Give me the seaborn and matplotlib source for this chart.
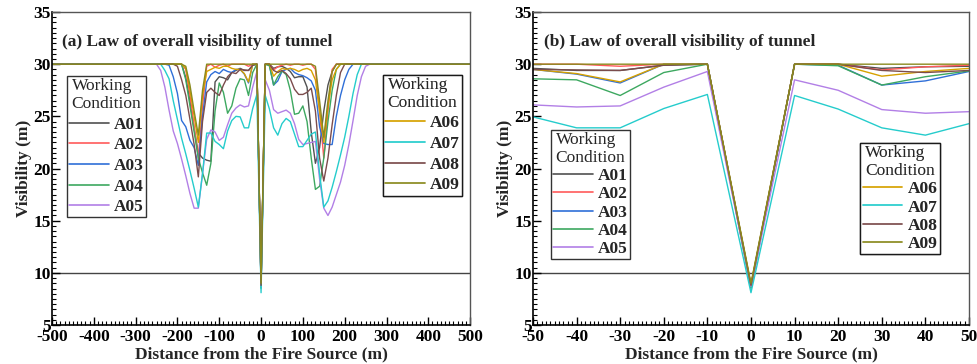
import numpy as np
import pandas as pd
import seaborn as sns
import matplotlib.pyplot as plt
from matplotlib.lines import Line2D
from matplotlib.ticker import MultipleLocator

# distance from fire source (m); sample points of the curves
x_a = [-500,
       -270, -260, -250, -240, -230, -220, -210, -200, -190, -180, -170, -160, -150, -140,
       -130, -120, -110, -100, -90, -80, -70, -60, -50, -40, -30, -20, -10,
       0,
       10, 20, 30, 40, 50, 60, 70, 80, 90, 100, 110, 120, 130, 140,
       150, 160, 170, 180, 190, 200, 210, 220, 230, 240, 250, 260, 270,
       500]

a01 = [30,
       30, 30, 30, 30, 30, 30, 30, 30, 30, 28.7, 26.5, 23.8, 21.5, 21.0,
       20.8, 20.7, 28.3, 28.8, 28.7, 28.5, 29.2, 29.4, 29.6, 29.4, 29.4, 29.9, 30,
       8.8,
       30, 30, 29.6, 29.75, 29.8, 29.6, 29.3, 28.7, 28.8, 28.8, 27.8, 23.5, 20.5, 22.0,
       25.5, 28.0, 29.3, 30, 30, 30, 30, 30, 30, 30, 30, 30, 30,
       30]
a02 = [30,
       30, 30, 30, 30, 30, 30, 30, 30, 30, 29.5, 27.0, 24.0, 21.0, 26.0,
       29.8, 30, 29.7, 29.9, 30, 29.8, 30, 30, 30, 30, 29.8, 30, 30,
       8.7,
       30, 30, 29.45, 29.75, 29.9, 30, 29.9, 30, 30, 29.9, 30, 30, 29.5, 25.5,
       21.0, 25.5, 29.5, 30, 30, 30, 30, 30, 30, 30, 30, 30, 30,
       30]
a03 = [30,
       30, 30, 30, 30, 30, 29.9, 28.8, 27.2, 24.6, 24.0, 22.7, 22.0, 20.3, 25.0,
       28.3, 29.0, 29.3, 29.1, 29.5, 29.3, 29.2, 29.5, 29.5, 29.05, 28.2, 30, 30,
       8.6,
       30, 29.9, 28.0, 28.4, 29.3, 29.5, 29.6, 29.2, 29.0, 28.9, 28.7, 28.4, 27.5, 24.0,
       22.4, 22.3, 22.3, 25.0, 27.0, 28.5, 29.5, 30, 30, 30, 30, 30, 30,
       30]
a04 = [30,
       30, 30, 30, 30, 30, 30, 30, 30, 30, 28.5, 26.0, 23.5, 21.0, 19.6,
       18.4, 20.5, 25.5, 28.2, 27.3, 25.3, 26.0, 27.7, 28.6, 28.5, 27.0, 29.2, 30,
       8.5,
       30, 29.85, 28.0, 28.8, 29.35, 29.0, 27.5, 25.2, 25.3, 26.0, 24.5, 21.0, 18.0, 18.3,
       21.0, 24.5, 27.5, 29.5, 30, 30, 30, 30, 30, 30, 30, 30, 30,
       30]
a05 = [30,
       30, 30, 30, 29.4, 27.8, 25.6, 23.6, 22.4, 20.9, 19.3, 17.6, 16.2, 16.2, 19.5,
       22.8, 23.7, 23.5, 22.7, 23.0, 24.2, 25.3, 25.8, 26.1, 25.9, 26.0, 27.8, 29.3,
       8.7,
       28.5, 27.5, 25.65, 25.3, 25.45, 25.6, 25.3, 24.3, 22.8, 22.3, 22.4, 22.5, 22.6, 19.0,
       16.2, 15.5, 16.3, 17.5, 18.7, 20.3, 22.3, 24.6, 27.0, 28.8, 29.8, 30, 30,
       30]
a06 = [30,
       30, 30, 30, 30, 30, 30, 30, 30, 30, 29.6, 27.5, 25.0, 22.5, 27.0,
       29.3, 29.5, 29.7, 29.6, 29.8, 29.8, 29.6, 29.5, 29.5, 29.1, 28.3, 30, 30,
       8.9,
       30, 30, 28.85, 29.3, 29.6, 29.5, 29.6, 29.5, 29.3, 29.5, 29.6, 29.4, 28.5, 25.5,
       22.5, 26.0, 28.5, 29.5, 30, 30, 30, 30, 30, 30, 30, 30, 30,
       30]
a07 = [30,
       30, 30, 30, 30, 29.4, 28.6, 26.5, 24.7, 22.9, 21.4, 19.8, 18.1, 16.3, 19.5,
       23.4, 23.4, 22.6, 22.3, 21.9, 23.6, 24.6, 25.0, 24.95, 23.9, 23.9, 25.75, 27.1,
       8.1,
       27.0, 25.7, 23.9, 23.2, 24.3, 24.8, 24.5, 23.3, 22.1, 22.1, 22.7, 23.3, 23.5, 19.5,
       16.3, 16.9, 18.2, 19.7, 21.3, 23.0, 25.0, 27.2, 29.0, 30, 30, 30, 30,
       30]
a08 = [30,
       30, 30, 30, 30, 30, 30, 30, 29.8, 28.5, 27.0, 24.7, 22.3, 19.2, 24.5,
       27.3, 27.7, 27.3, 27.0, 28.0, 28.8, 29.2, 29.1, 29.5, 29.45, 29.4, 29.9, 30,
       8.8,
       30, 30, 29.4, 29.2, 29.4, 29.1, 28.6, 27.6, 27.1, 27.1, 27.3, 27.7, 25.5, 21.0,
       18.8, 21.0, 24.2, 27.0, 29.2, 30, 30, 30, 30, 30, 30, 30, 30,
       30]
a09 = [30,
       30, 30, 30, 30, 30, 30, 30, 30, 30, 29.8, 28.0, 25.5, 23.2, 27.5,
       30, 30, 30, 30, 30, 30, 30, 30, 30, 30, 30, 30, 30,
       9.0,
       30, 30, 30, 30, 30, 30, 30, 30, 30, 30, 30, 30, 29.8, 26.5,
       23.0, 26.5, 29.3, 30, 30, 30, 30, 30, 30, 30, 30, 30, 30,
       30]

cases = ["A01", "A02", "A03", "A04", "A05", "A06", "A07", "A08", "A09"]
series = [a01, a02, a03, a04, a05, a06, a07, a08, a09]
colors = ["#505050", "#ff5a5a", "#2f6fd8", "#3da860", "#b27fe6",
          "#d6a100", "#25cccc", "#7b4c4c", "#8a8a1e"]

rows = []
for c, vals in zip(cases, series):
    for x, v in zip(x_a, vals):
        rows.append((c, x, v))
df = pd.DataFrame(rows, columns=["case", "dist", "vis"])
df_b = df[(df["dist"] >= -50) & (df["dist"] <= 50)]

sns.set_style("white")
plt.rcParams["font.family"] = ["Liberation Serif", "DejaVu Serif"]
plt.rcParams["axes.unicode_minus"] = False

fig = plt.figure(figsize=(9.77, 3.64), dpi=100)
ax1 = fig.add_axes([0.0532, 0.107, 0.428, 0.860])
ax2 = fig.add_axes([0.5455, 0.107, 0.4463, 0.860])

palette = dict(zip(cases, colors))


def style_axis(ax, xmaj, xmin, xlim, title):
    ax.set_xlim(*xlim)
    ax.set_ylim(5, 35)
    ax.xaxis.set_major_locator(MultipleLocator(xmaj))
    ax.xaxis.set_minor_locator(MultipleLocator(xmin))
    ax.yaxis.set_major_locator(MultipleLocator(5))
    ax.yaxis.set_minor_locator(MultipleLocator(0.5))
    ax.tick_params(which="both", direction="in", top=False, right=False,
                   bottom=True, left=True, colors="black")
    ax.tick_params(which="major", length=6, width=1, labelsize=12.5)
    ax.tick_params(axis="x", which="major", pad=3)
    ax.tick_params(axis="y", which="major", pad=1)
    ax.tick_params(which="minor", length=3, width=0.8)
    for lab in ax.get_xticklabels() + ax.get_yticklabels():
        lab.set_fontweight("bold")
    for s in ["left", "bottom"]:
        ax.spines[s].set_color("black")
        ax.spines[s].set_linewidth(1.2)
    for s in ["top", "right"]:
        ax.spines[s].set_color("#555555")
        ax.spines[s].set_linewidth(1.0)
    ax.axhline(10, color="#444444", lw=1.0, zorder=0.5)
    ax.set_xlabel("Distance from the Fire Source (m)", fontsize=12.5,
                  fontweight="bold", labelpad=0.5)
    ax.set_ylabel("Visibility (m)", fontsize=12.5, fontweight="bold", labelpad=1)
    ax.text(0.025, 0.905, title, transform=ax.transAxes, fontsize=12.5,
            fontweight="bold", ha="left", va="center")


def add_legend(ax, names, loc, anchor, spacing):
    handles = [Line2D([], [], color=palette[n], lw=1.2) for n in names]
    leg = ax.legend(handles, names, loc=loc, bbox_to_anchor=anchor,
                    title="Working\nCondition", frameon=True, fancybox=False,
                    edgecolor="black", handlelength=2.3, handletextpad=0.3,
                    labelspacing=spacing, borderpad=0.12, borderaxespad=0,
                    prop={"weight": "bold", "size": 12.5},
                    title_fontproperties={"size": 12.5})
    leg.get_title().set_linespacing(1.15)
    leg.get_frame().set_linewidth(1.0)
    ax.add_artist(leg)
    return leg


sns.lineplot(data=df, x="dist", y="vis", hue="case", hue_order=cases,
             palette=palette, estimator=None, sort=False, legend=False,
             lw=1.0, ax=ax1)
style_axis(ax1, 100, 10, (-500, 500), "(a) Law of overall visibility of tunnel")
add_legend(ax1, cases[:5], "upper left", (0.036, 0.795), 0.26)
add_legend(ax1, cases[5:], "upper right", (0.981, 0.799), 0.26)

sns.lineplot(data=df_b, x="dist", y="vis", hue="case", hue_order=cases,
             palette=palette, estimator=None, sort=False, legend=False,
             lw=1.0, ax=ax2)
style_axis(ax2, 10, 1, (-50, 50), "(b) Law of overall visibility of tunnel")
add_legend(ax2, cases[:5], "upper left", (0.041, 0.623), 0.12)
add_legend(ax2, cases[5:], "upper right", (0.933, 0.581), 0.12)

fig.savefig("out.png", dpi=100)
